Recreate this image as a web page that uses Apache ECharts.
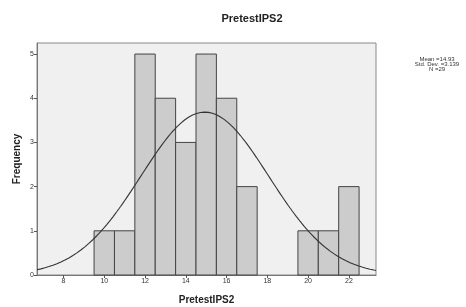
<!DOCTYPE html>
<html><head><meta charset="utf-8">
<script src="https://cdn.jsdelivr.net/npm/echarts@6/dist/echarts.min.js"></script>
<style>html,body{margin:0;padding:0;background:#fff}#c{width:466px;height:307px}</style>
</head><body><div id="c"></div>
<script>
// Histogram bins (centre of each 1-wide bin) and frequencies
const binCenters = [10, 11, 12, 13, 14, 15, 16, 17, 18, 19, 20, 21, 22];
const frequencies = [1, 1, 5, 4, 3, 5, 4, 2, 0, 0, 1, 1, 2];
const xTicks = [8, 10, 12, 14, 16, 18, 20, 22];
const yTicks = [0, 1, 2, 3, 4, 5];
const stats = { mean: 14.93, sd: 3.139, n: 29 };
const statLines = ['Mean =14.93', 'Std. Dev. =3.139', 'N =29'];

const xMin = 6.7, xMax = 23.33, yMax = 5.25;
// Fitted normal curve (SPSS overlay) from the stated mean / sd / N
const curve = [];
for (let i = 0; i <= 170; i++) {
  const x = xMin + (xMax - xMin) * i / 170;
  const z = (x - stats.mean) / stats.sd;
  curve.push([x, stats.n * Math.exp(-0.5 * z * z) / (stats.sd * Math.sqrt(2 * Math.PI))]);
}
const barData = binCenters.map((c, i) => [c, frequencies[i]]).filter(d => d[1] > 0);

const chart = echarts.init(document.getElementById('c'), null, { renderer: 'canvas' });
const F = 'Liberation Sans, Arial, sans-serif';
chart.setOption({
  animation: false,
  title: { text: 'PretestIPS2', left: 247, top: 8, textAlign: 'center',
    textStyle: { fontFamily: F, fontSize: 11, fontWeight: 'bold', color: '#222' } },
  graphic: [{ type: 'text', x: 437, y: 57,
    style: { text: statLines.join('\n'), fontFamily: F, fontSize: 6, lineHeight: 4.8, fill: '#333', align: 'center', verticalAlign: 'top' } }],
  grid: { left: 37, right: 90, top: 43, bottom: 32, outerBoundsMode: 'none', containLabel: false,
    show: true, backgroundColor: '#f0f0f0', borderColor: '#8a8a8a', borderWidth: 1 },
  xAxis: { type: 'value', min: xMin, max: xMax,
    name: 'PretestIPS2', nameLocation: 'middle', nameGap: 20, nameMoveOverlap: false,
    nameTextStyle: { fontFamily: F, fontSize: 10, fontWeight: 'bold', color: '#222' },
    axisLine: { show: true, lineStyle: { color: '#777' } },
    axisTick: { show: true, length: 3, customValues: xTicks, lineStyle: { color: '#555' } },
    axisLabel: { customValues: xTicks, fontFamily: F, fontSize: 7, color: '#333', margin: 3 },
    splitLine: { show: false } },
  yAxis: { type: 'value', min: 0, max: yMax,
    name: 'Frequency', nameLocation: 'middle', nameGap: 15, nameRotate: 90, nameMoveOverlap: false,
    nameTextStyle: { fontFamily: F, fontSize: 10, fontWeight: 'bold', color: '#222' },
    axisLine: { show: true, lineStyle: { color: '#777' } },
    axisTick: { show: true, length: 3, customValues: yTicks, lineStyle: { color: '#555' } },
    axisLabel: { customValues: yTicks, fontFamily: F, fontSize: 7, color: '#333', margin: 3 },
    splitLine: { show: false } },
  series: [
    { type: 'custom', data: barData, renderItem: function (params, api) {
        const c = api.value(0), v = api.value(1);
        const p0 = api.coord([c - 0.5, 0]);
        const p1 = api.coord([c + 0.5, v]);
        return { type: 'rect', shape: { x: p0[0], y: p1[1], width: p1[0] - p0[0], height: p0[1] - p1[1] },
          style: { fill: '#cccccc', stroke: '#444', lineWidth: 1 } };
      }, encode: { x: 0, y: 1 }, z: 2 },
    { type: 'line', data: curve, showSymbol: false, smooth: false, z: 3,
      lineStyle: { color: '#333', width: 1.1 } }
  ]
});
</script></body></html>
